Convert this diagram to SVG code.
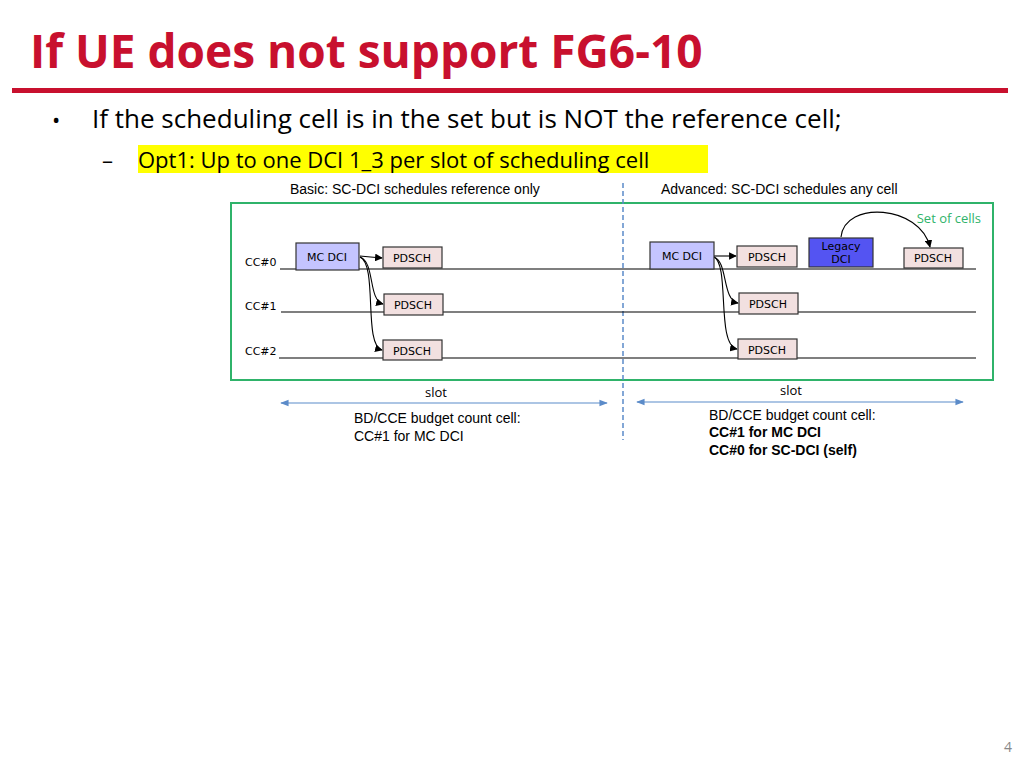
<svg xmlns="http://www.w3.org/2000/svg" width="1024" height="768" viewBox="0 0 1024 768">
<style>
.t{font-family:"Liberation Sans",Arial,sans-serif;fill:#000}
.c{font-family:"DejaVu Sans",Verdana,sans-serif;font-size:11px;fill:#000}
.o{font-family:"Open Sans","Noto Sans",sans-serif}
.pd{fill:#f2e0e0;stroke:#333;stroke-width:1.2}
.mc{fill:#c4c4ff;stroke:#333;stroke-width:1.2}
.ln{stroke:#000;stroke-width:1.2;fill:none}
.ar{stroke:#000;stroke-width:1.1;fill:none;marker-end:url(#ah)}
.sl{stroke:#5b8bc9;stroke-width:1.2;marker-end:url(#sa);marker-start:url(#sa)}
</style>
<defs>
<marker id="ah" viewBox="0 0 10 10" refX="9" refY="5" markerWidth="7" markerHeight="7" orient="auto"><path d="M0 0L10 5L0 10z" fill="#000"/></marker>
<marker id="sa" viewBox="0 0 10 10" refX="9" refY="5" markerWidth="7" markerHeight="7" orient="auto-start-reverse"><path d="M0 1L10 5L0 9z" fill="#5b8bc9"/></marker>
</defs>
<rect width="1024" height="768" fill="#fff"/>
<text x="30" y="68" class="o" font-size="46" font-weight="bold" fill="#c8102e">If UE does not support FG6-10</text>
<rect x="12" y="88" width="996" height="5" fill="#c8102e"/>
<text x="52" y="128" class="o" font-size="22">•</text>
<text x="92" y="128" class="o" font-size="26">If the scheduling cell is in the set but is NOT the reference cell;</text>
<rect x="138" y="145" width="570" height="28" fill="#ffff00"/>
<text x="102" y="168" class="o" font-size="22">–</text>
<text x="138" y="168" class="o" font-size="22">Opt1: Up to one DCI 1_3 per slot of scheduling cell</text>
<text x="290" y="194" class="t" font-size="14">Basic: SC-DCI schedules reference only</text>
<text x="661" y="194" class="t" font-size="14">Advanced: SC-DCI schedules any cell</text>
<rect x="231" y="203" width="762" height="177" fill="none" stroke="#2fb36a" stroke-width="2"/>
<text x="981" y="223" class="o" font-size="13" fill="#2fb36a" text-anchor="end">Set of cells</text>
<line x1="623" y1="183" x2="623" y2="440" stroke="#5b8bc9" stroke-width="1.5" stroke-dasharray="5,3"/>
<g id="lines">
<line class="ln" x1="280" y1="269" x2="976" y2="269"/>
<line class="ln" x1="281" y1="312" x2="976" y2="312"/>
<line class="ln" x1="279" y1="358" x2="976" y2="358"/>
</g>
<text x="245" y="266" class="c" font-size="10">CC#0</text>
<text x="245" y="310" class="c" font-size="10">CC#1</text>
<text x="245" y="355" class="c" font-size="10">CC#2</text>
<g id="connectors">
<path class="ar" d="M360 256 Q370 257 382 258"/>
<path class="ar" d="M360 257 C375 262 368 300 383 304"/>
<path class="ar" d="M360 257 C378 265 363 345 382 350"/>
<path class="ar" d="M714 256 Q724 256 736 256"/>
<path class="ar" d="M714 257 C728 262 722 300 738 303"/>
<path class="ar" d="M714 257 C730 265 716 345 737 349"/>
<path class="ar" d="M841 237 C845 200 920 205 930 247"/>
</g>
<g id="left-mc"><rect class="mc" x="296" y="243" width="63" height="27"/><text x="327" y="261" class="c" text-anchor="middle">MC DCI</text></g>
<g id="left-p0"><rect class="pd" x="383" y="247" width="59" height="21"/><text x="412" y="262" class="c" text-anchor="middle">PDSCH</text></g>
<g id="left-p1"><rect class="pd" x="384" y="294" width="59" height="21"/><text x="413" y="309" class="c" text-anchor="middle">PDSCH</text></g>
<g id="left-p2"><rect class="pd" x="383" y="340" width="59" height="20"/><text x="412" y="355" class="c" text-anchor="middle">PDSCH</text></g>
<g id="right-mc"><rect class="mc" x="650" y="242" width="64" height="27"/><text x="682" y="260" class="c" text-anchor="middle">MC DCI</text></g>
<g id="right-p0"><rect class="pd" x="737" y="246" width="60" height="21"/><text x="767" y="261" class="c" text-anchor="middle">PDSCH</text></g>
<g id="legacy"><rect x="809" y="238" width="64" height="29" fill="#5454f2" stroke="#333" stroke-width="1.2"/><text x="841" y="250" class="c" text-anchor="middle">Legacy</text><text x="841" y="263" class="c" text-anchor="middle">DCI</text></g>
<g id="right-p3"><rect class="pd" x="904" y="248" width="59" height="20"/><text x="933" y="262" class="c" text-anchor="middle">PDSCH</text></g>
<g id="right-p1"><rect class="pd" x="739" y="293" width="59" height="21"/><text x="768" y="308" class="c" text-anchor="middle">PDSCH</text></g>
<g id="right-p2"><rect class="pd" x="738" y="339" width="59" height="20"/><text x="767" y="354" class="c" text-anchor="middle">PDSCH</text></g>
<text x="436" y="397" class="o" font-size="13" text-anchor="middle">slot</text>
<text x="791" y="395" class="o" font-size="13" text-anchor="middle">slot</text>
<line class="sl" x1="281" y1="403" x2="607" y2="403"/>
<line class="sl" x1="637" y1="402" x2="963" y2="402"/>
<text x="354" y="423" class="t" font-size="14">BD/CCE budget count cell:</text>
<text x="354" y="441" class="t" font-size="14">CC#1 for MC DCI</text>
<text x="709" y="420" class="t" font-size="14">BD/CCE budget count cell:</text>
<text x="709" y="437" class="t" font-size="14" font-weight="bold" fill="#e02020">CC#1 for MC DCI</text>
<text x="709" y="455" class="t" font-size="14" font-weight="bold" fill="#e02020">CC#0 for SC-DCI (self)</text>
<text x="1012" y="752" class="o" font-size="14" fill="#888" text-anchor="end">4</text>
</svg>
